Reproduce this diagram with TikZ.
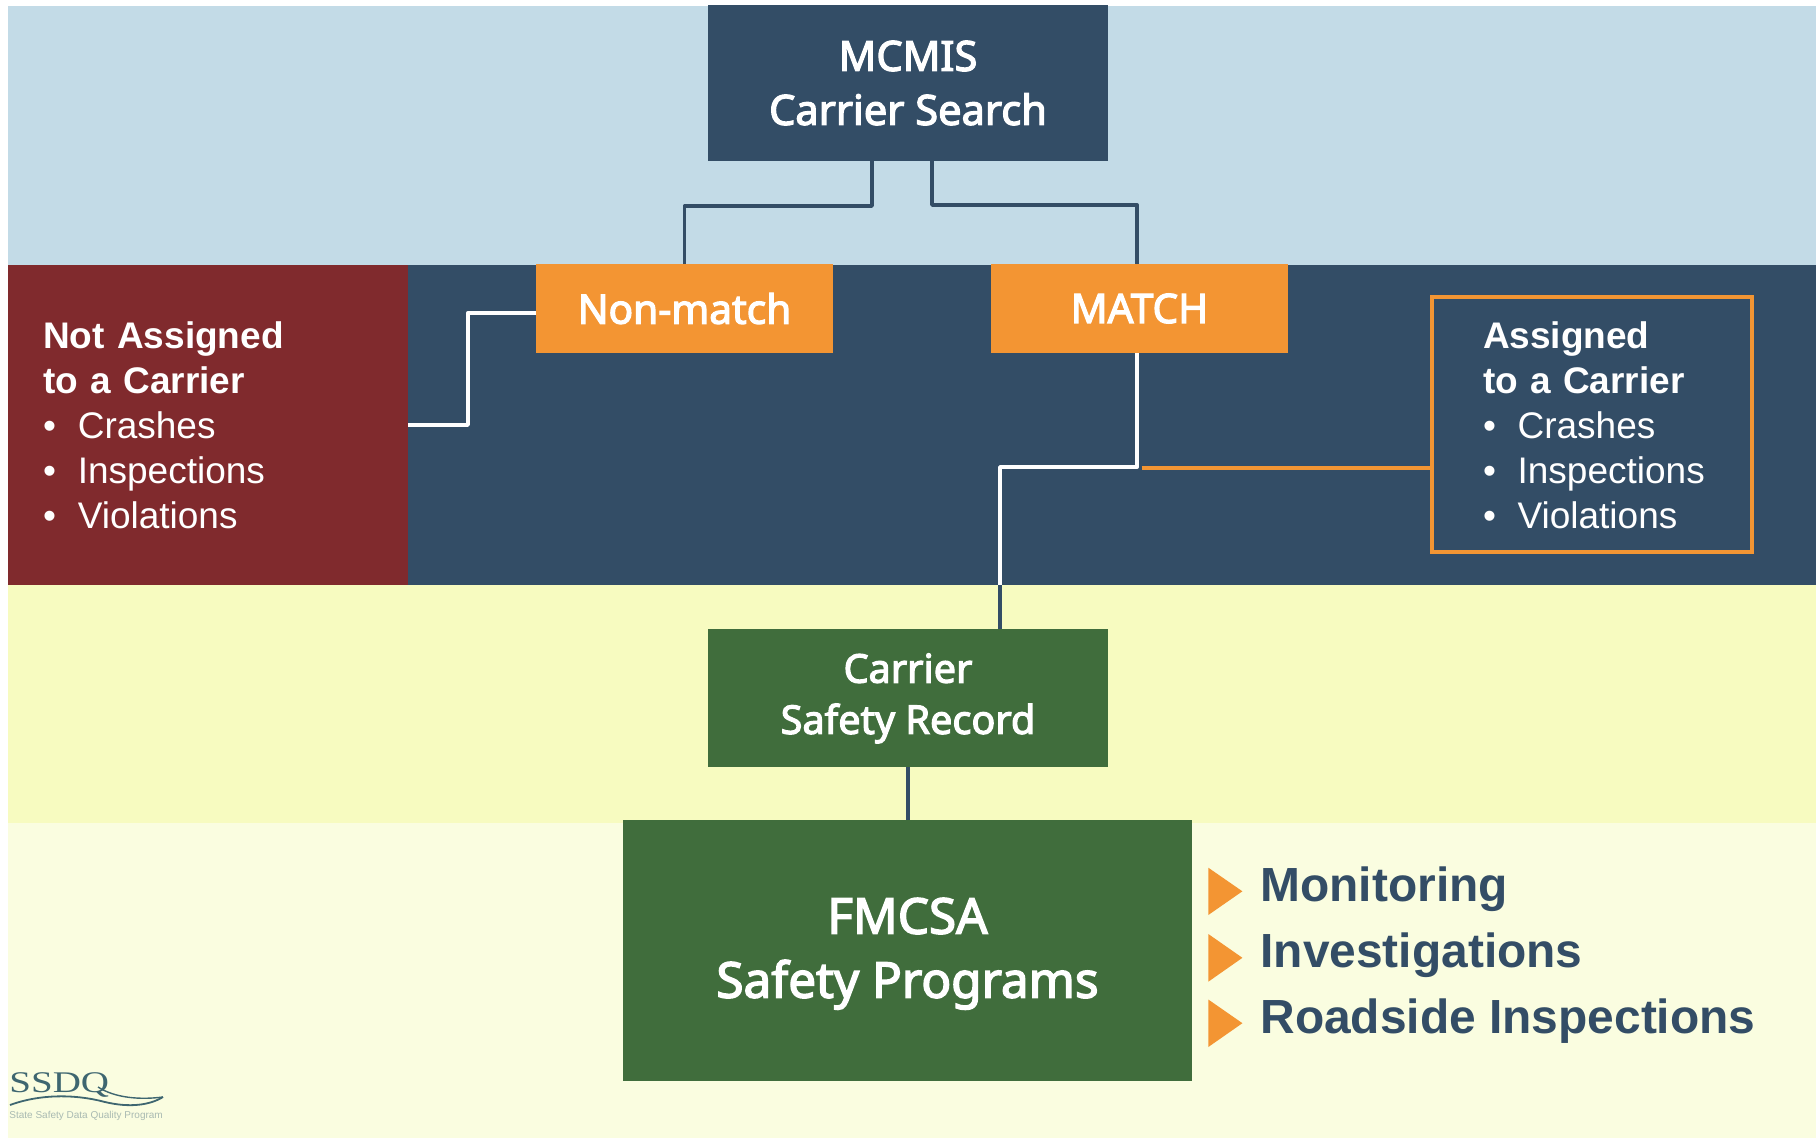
\documentclass[tikz,border=0pt]{standalone}
\usepackage{fontspec}
\setmainfont{Liberation Sans}
\newfontfamily\boxfont[FakeBold=3]{Noto Sans}
\newfontfamily\logofont{Liberation Serif}
\definecolor{bandblue}{HTML}{C3DBE7}
\definecolor{navy}{HTML}{334D66}
\definecolor{wine}{HTML}{802A2D}
\definecolor{bandyellow}{HTML}{F7FBC0}
\definecolor{bandpale}{HTML}{FAFDE0}
\definecolor{amber}{HTML}{F39533}
\definecolor{leaf}{HTML}{406D3C}
\definecolor{logoink}{HTML}{3E6670}
\definecolor{logopale}{HTML}{A9BAB2}
\newlength{\listpad}
\newcommand{\padline}[1]{\hspace*{\listpad}#1}
\newcommand{\bulletitem}[1]{\hspace*{\listpad}\makebox[17.3pt][l]{•}#1}
\newcommand{\assignlist}[3]{\setlength{\listpad}{#3}{\bfseries\padline{#1}\\\padline{#2}}\\\bulletitem{Crashes}\\\bulletitem{Inspections}\\\bulletitem{Violations}}
\tikzset{
  band/.style={fill=#1,draw=none},
  boxbase/.style={rectangle,inner sep=0pt,text=white,align=center},
  titlebox/.style={boxbase,fill=navy,minimum width=200pt,minimum height=78pt,font=\boxfont\fontsize{20.8}{27}\selectfont},
  choicebox/.style={boxbase,fill=amber,minimum width=148.5pt,minimum height=44.5pt,font=\boxfont\fontsize{20.3}{27}\selectfont},
  recordbox/.style={boxbase,fill=leaf,minimum width=200pt,minimum height=69pt,font=\boxfont\fontsize{19.8}{25.6}\selectfont},
  programbox/.style={boxbase,fill=leaf,minimum width=284.5pt,minimum height=130.5pt,font=\boxfont\fontsize{24.7}{32}\selectfont},
  listbox/.style={rectangle,inner sep=0pt,text=white,align=left,font=\fontsize{18.5}{22.5}\selectfont},
  darkline/.style={draw=navy,line width=1.9pt},
  whiteline/.style={draw=white,line width=1.9pt},
  amberline/.style={draw=amber,line width=1.9pt},
  pointer/.style={fill=amber,draw=none},
  usetext/.style={anchor=base west,inner sep=0pt,text=navy,font=\bfseries\fontsize{23.95}{28}\selectfont},
}
\begin{document}
\begin{tikzpicture}[x=0.5pt,y=-0.5pt]
\useasboundingbox (0,0) rectangle (1820,1139);
\fill[band=bandblue] (8,6) rectangle (1816,265);
\fill[band=navy] (8,265) rectangle (1816,585);
\fill[band=bandyellow] (8,585) rectangle (1816,823);
\fill[band=bandpale] (8,823) rectangle (1816,1138);

\node[listbox,fill=wine,minimum width=200pt,minimum height=160pt,text width=200pt] (red) at (208,425) {\assignlist{Not Assigned}{to a Carrier}{17.6pt}};
\node[listbox,draw=amber,line width=2pt,fill=navy,minimum width=160pt,minimum height=127.5pt,text width=160pt] (assigned) at (1592,424.5) {\assignlist{\rule{0pt}{14.3pt}Assigned}{to a Carrier}{25.5pt}};

\node[titlebox] (top) at (908,83) {MCMIS\\Carrier Search};
\node[choicebox] (nonmatch) at (684.5,308.5) {Non-match};
\node[choicebox] (match) at (1139.5,308.5) {MATCH};
\node[recordbox] (record) at (908,698) {\rule{0pt}{15pt}Carrier\\Safety Record};
\node[programbox] (program) at (907.5,950.5) {\rule{0pt}{21.1pt}FMCSA\\Safety Programs};

\coordinate (tl) at (872,206);
\coordinate (tr) at (932,205);
\coordinate (trb) at (1137,205);
\coordinate (mb) at (1137,467);
\coordinate (mc) at (1000,467);
\coordinate (md) at (1000,585);
\coordinate (nu) at (468,312.7);
\coordinate (nd) at (468,425);
\coordinate (oa) at (1141.5,467.7);

\draw[darkline,line join=round] (tl |- top.south) -- (tl) -- (tl -| nonmatch.north) -- (nonmatch.north);
\draw[darkline,line join=round] (tr |- top.south) -- (tr) -- (trb) -- (trb |- match.north);
\draw[whiteline,line join=round] (mb |- match.south) -- (mb) -- (mc) -- (md);
\draw[darkline] (md) -- (md |- record.north);
\draw[whiteline,line join=round] (nu -| nonmatch.west) -- (nu) -- (nd) -- (red.east);
\draw[amberline] (oa) -- (oa -| assigned.west);
\draw[darkline] (record.south) -- (record.south |- program.north);

\fill[pointer] (1208.3,867.7) -- (1242.4,891.3) -- (1208.3,915) -- cycle;
\fill[pointer] (1208.3,934) -- (1242.4,957.8) -- (1208.3,981.7) -- cycle;
\fill[pointer] (1208.3,999.5) -- (1242.4,1023.2) -- (1208.3,1047) -- cycle;
\node[usetext] (u1) at (1260,901) {Monitoring};
\node[usetext] (u2) at (1260,967.7) {Investigations};
\node[usetext] (u3) at (1260,1033.7) {Roadside Inspections};

\node[anchor=base west,inner sep=0pt,text=logoink,font=\logofont\fontsize{15}{15}\selectfont] (logo) at (9,1092.5) {\scalebox{1.3}[1]{SSDQ}};
\draw[logoink,line width=0.9pt] (10,1105) .. controls (40,1094) and (75,1094) .. (105,1102) .. controls (130,1108) and (150,1105) .. (163,1097);
\draw[logoink,line width=0.7pt] (98,1087) .. controls (115,1098) and (140,1100) .. (163,1097);
\node[anchor=base west,inner sep=0pt,text=logopale,font=\fontsize{5}{5}\selectfont] (logotext) at (9,1118) {State Safety Data Quality Program};
\end{tikzpicture}
\end{document}
